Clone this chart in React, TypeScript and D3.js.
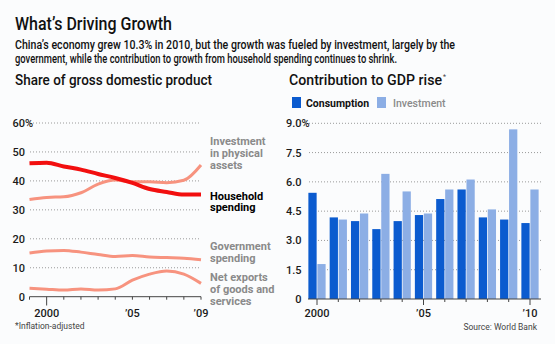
import React from "react";
import * as d3 from "d3";

const lineYears = [1999, 2000, 2001, 2002, 2003, 2004, 2005, 2006, 2007, 2008, 2009];
const household = [46.1, 46.3, 45.0, 43.9, 42.4, 41.0, 39.3, 37.2, 36.2, 35.3, 35.3];
const investmentShare = [33.6, 34.3, 34.5, 35.9, 38.9, 40.3, 39.7, 39.7, 39.4, 40.2, 45.5];
const government = [15.1, 15.8, 16.0, 15.4, 14.6, 13.9, 14.2, 13.7, 13.5, 13.3, 12.8];
const netExports = [2.9, 2.6, 2.3, 2.7, 2.3, 2.7, 5.7, 7.8, 8.9, 7.8, 4.6];
const leftYTicks = [0, 10, 20, 30, 40, 50, 60];
const leftXLabels = [
  { year: 2000, label: "2000" },
  { year: 2005, label: "\u201905" },
  { year: 2009, label: "\u201909" },
];

const barYears = [2000, 2001, 2002, 2003, 2004, 2005, 2006, 2007, 2008, 2009, 2010];
const consumption = [5.44, 4.18, 3.99, 3.58, 3.99, 4.3, 5.12, 5.61, 4.18, 4.07, 3.89];
const investment = [1.79, 4.07, 4.38, 6.41, 5.51, 4.38, 5.61, 6.12, 4.59, 8.69, 5.61];
const rightYTicks = [0, 1.5, 3.0, 4.5, 6.0, 7.5, 9.0];
const rightXLabels = [
  { year: 2000, label: "2000" },
  { year: 2005, label: "\u201905" },
  { year: 2010, label: "\u201910" },
];
const seriesKeys = ["Consumption", "Investment"];

const FONT = "Roboto, 'Open Sans', sans-serif";
const RED = "#f20f0f";
const SALMON = "#f7937f";
const BLUE = "#0b5bcf";
const LIGHTBLUE = "#8caee5";
const GRAYTXT = "#8a8a8a";
const DARK = "#1a1a1a";

export default function App() {
  const xL = d3.scaleLinear().domain([1999, 2009]).range([29.5, 201]);
  const yL = d3.scaleLinear().domain([0, 60]).range([296.7, 123]);
  const line = d3
    .line<number>()
    .x((_, i) => xL(lineYears[i]))
    .y((d) => yL(d))
    .curve(d3.curveMonotoneX);

  const xR = d3
    .scaleBand<number>()
    .domain(barYears)
    .range([306.35, 540.65])
    .paddingInner(0.19)
    .paddingOuter(0.095);
  const xInner = d3
    .scaleBand<string>()
    .domain(seriesKeys)
    .range([0, xR.bandwidth()])
    .paddingInner(0.08);
  const yR = d3.scaleLinear().domain([0, 9]).range([299, 123.3]);

  const fmtR = (v: number) => (v === 0 ? "0" : v.toFixed(1));

  return (
    <svg
      width={555}
      height={344}
      style={{ position: "absolute", left: 0, top: 0, background: "#fbfcfd" }}
      fontFamily={FONT}
    >
      <rect x={0} y={0} width={555} height={344} fill="#fbfcfd" />
      <text x={15} y={30} fontSize={18} fontWeight={500} fill="#111" textLength={157} lengthAdjust="spacingAndGlyphs">
        What’s Driving Growth
      </text>
      <text x={15} y={49} fontSize={12} fontWeight={500} fill="#111" textLength={440} lengthAdjust="spacingAndGlyphs">
        China’s economy grew 10.3% in 2010, but the growth was fueled by investment, largely by the
      </text>
      <text x={15} y={62.5} fontSize={12} fontWeight={500} fill="#111" textLength={382} lengthAdjust="spacingAndGlyphs">
        government, while the contribution to growth from household spending continues to shrink.
      </text>

      <text x={15} y={85} fontSize={14} fontWeight={500} fill="#111" textLength={197} lengthAdjust="spacingAndGlyphs">
        Share of gross domestic product
      </text>

      {leftYTicks.map((t) => (
        <g key={"lg" + t}>
          {t > 0 && (
            <line x1={30} x2={201} y1={yL(t)} y2={yL(t)} stroke="#9a9a9a" strokeWidth={1} strokeDasharray="1,2" />
          )}
          <text x={25} y={yL(t) + 4} fontSize={11} fontWeight={500} fill={DARK} textAnchor="end">
            {t}
          </text>
          {t === 60 && (
            <text x={25} y={yL(t) + 4} fontSize={11} fontWeight={500} fill={DARK}>
              %
            </text>
          )}
        </g>
      ))}
      <line x1={29.5} x2={201} y1={296.7} y2={296.7} stroke="#444" strokeWidth={1} />
      {lineYears.map((yr) => (
        <line
          key={"lt" + yr}
          x1={xL(yr)}
          x2={xL(yr)}
          y1={296.7}
          y2={yr === 2000 ? 305.5 : 299.7}
          stroke="#444"
          strokeWidth={1}
        />
      ))}
      {leftXLabels.map((d) => (
        <text key={"lx" + d.year} x={xL(d.year)} y={317} fontSize={11} fontWeight={500} fill={DARK} textAnchor="middle">
          {d.label}
        </text>
      ))}

      <path d={line(netExports) || ""} fill="none" stroke={SALMON} strokeWidth={3} />
      <path d={line(government) || ""} fill="none" stroke={SALMON} strokeWidth={3} />
      <path d={line(investmentShare) || ""} fill="none" stroke={SALMON} strokeWidth={3} />
      <path d={line(household) || ""} fill="none" stroke={RED} strokeWidth={4} />

      <g fontSize={11} fontWeight={700}>
        <text x={210} y={144.5} fill={GRAYTXT}>Investment</text>
        <text x={210} y={156.5} fill={GRAYTXT}>in physical</text>
        <text x={210} y={168.5} fill={GRAYTXT}>assets</text>
        <text x={210} y={199.5} fill="#000">Household</text>
        <text x={210} y={211} fill="#000">spending</text>
        <text x={210} y={250} fill={GRAYTXT}>Government</text>
        <text x={210} y={262} fill={GRAYTXT}>spending</text>
        <text x={210} y={280.5} fill={GRAYTXT}>Net exports</text>
        <text x={210} y={292.5} fill={GRAYTXT}>of goods and</text>
        <text x={210} y={304.5} fill={GRAYTXT}>services</text>
      </g>
      <text x={15} y={329} fontSize={8.5} fill="#444">*Inflation-adjusted</text>

      <text x={289} y={85} fontSize={14} fontWeight={500} fill="#111" textLength={153} lengthAdjust="spacingAndGlyphs">
        Contribution to GDP rise
      </text>
      <text x={443} y={79} fontSize={7} fill="#444">*</text>

      <rect x={292} y={97} width={9} height={11} fill={BLUE} />
      <text x={306} y={106.5} fontSize={10.5} fontWeight={700} fill="#111">Consumption</text>
      <rect x={377} y={97} width={9} height={11} fill={LIGHTBLUE} />
      <text x={393} y={106.5} fontSize={10.5} fontWeight={500} fill={GRAYTXT}>Investment</text>

      {rightYTicks.map((t) => (
        <g key={"rg" + t}>
          {t > 0 && (
            <line x1={309} x2={541} y1={yR(t)} y2={yR(t)} stroke="#9a9a9a" strokeWidth={1} strokeDasharray="1,2" />
          )}
          <text x={301.5} y={yR(t) + 4} fontSize={11} fontWeight={500} fill={DARK} textAnchor="end">
            {fmtR(t)}
          </text>
          {t === 9 && (
            <text x={301.5} y={yR(t) + 4} fontSize={11} fontWeight={500} fill={DARK}>
              %
            </text>
          )}
        </g>
      ))}

      {barYears.map((yr, i) => (
        <g key={"b" + yr} transform={`translate(${xR(yr)},0)`}>
          <rect
            x={xInner("Consumption")}
            y={yR(consumption[i])}
            width={xInner.bandwidth()}
            height={yR(0) - yR(consumption[i])}
            fill={BLUE}
          />
          <rect
            x={xInner("Investment")}
            y={yR(investment[i])}
            width={xInner.bandwidth()}
            height={yR(0) - yR(investment[i])}
            fill={LIGHTBLUE}
          />
        </g>
      ))}

      <line x1={308} x2={541} y1={299} y2={299} stroke="#444" strokeWidth={1} />
      {barYears.map((yr) => {
        const cx = (xR(yr) || 0) + xR.bandwidth() / 2;
        const major = yr % 5 === 0;
        return (
          <line key={"rt" + yr} x1={cx} x2={cx} y1={299} y2={major ? 305 : 302} stroke="#444" strokeWidth={1} />
        );
      })}
      {rightXLabels.map((d) => (
        <text
          key={"rx" + d.year}
          x={(xR(d.year) || 0) + xR.bandwidth() / 2}
          y={317}
          fontSize={11}
          fontWeight={500}
          fill={DARK}
          textAnchor="middle"
        >
          {d.label}
        </text>
      ))}
      <text x={537} y={330} fontSize={8.5} fill="#444" textAnchor="end">Source: World Bank</text>
    </svg>
  );
}
